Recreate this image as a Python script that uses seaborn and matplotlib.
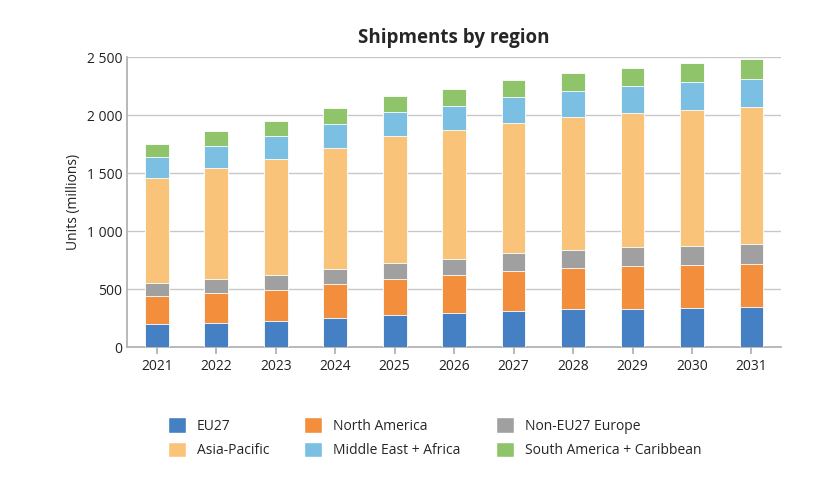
import numpy as np
import pandas as pd
import seaborn as sns
import matplotlib.pyplot as plt
from matplotlib.patches import Patch
from matplotlib.ticker import FuncFormatter

years = ["2021","2022","2023","2024","2025","2026","2027","2028","2029","2030","2031"]
eu27 = [199,210,225,253,276,294,314,325,331,337,343]
north_america = [239,257,270,291,312,325,346,360,372,374,377]
non_eu27 = [112,118,124,130,141,141,152,156,158,159,167]
asia_pacific = [907,962,1008,1045,1091,1109,1120,1140,1155,1172,1187]
mea = [179,188,196,208,208,210,222,228,236,242,242]
south_america = [115,126,130,132,141,144,150,155,159,164,170]

names = ["EU27","North America","Non-EU27 Europe","Asia-Pacific","Middle East + Africa","South America + Caribbean"]
series = [eu27, north_america, non_eu27, asia_pacific, mea, south_america]
colors = ["#4580c4","#f28e3c","#a0a0a0","#fac37a","#7bbfe2","#8fc46a"]

sns.set_theme(style="white", font="Open Sans")
fig, ax = plt.subplots(figsize=(8.31,4.78), dpi=100)
fig.subplots_adjust(left=0.153, right=0.94, top=0.88, bottom=0.274)

cum = np.cumsum(np.array(series), axis=0)
for i in range(len(series)-1, -1, -1):
    df = pd.DataFrame({"year": years, "v": cum[i]})
    sns.barplot(data=df, x="year", y="v", color=colors[i], width=0.4, saturation=1,
                edgecolor="white", linewidth=0.6, ax=ax, zorder=3)

ax.set_ylim(0, 2500)
ax.set_yticks(range(0, 2501, 500))
ax.yaxis.set_major_formatter(FuncFormatter(lambda v, p: f"{int(v):,}".replace(",", " ")))
ax.grid(axis="y", color="#c8c8c8", linewidth=1, zorder=0)
ax.set_axisbelow(True)
for s in ["top","right"]:
    ax.spines[s].set_visible(False)
for s in ["left","bottom"]:
    ax.spines[s].set_color("#b0b0b0")
ax.tick_params(axis="x", length=5, color="#b0b0b0", bottom=True, labelsize=10, colors="#222222")
ax.tick_params(axis="y", length=0, labelsize=10, colors="#222222")
ax.set_xlabel("")
ax.set_ylabel("Units (millions)", fontsize=10, color="#222222")
ax.set_title("Shipments by region", fontsize=13.5, fontweight="bold", pad=10)

handles = [Patch(facecolor=c, label=n) for c, n in zip(colors, names)]
order = [0,3,1,4,2,5]
ax.legend([handles[k] for k in order], [names[k] for k in order], ncol=3,
          loc="upper center", bbox_to_anchor=(0.47, -0.2), frameon=False,
          fontsize=10, handlelength=1.3, handleheight=1.3, columnspacing=2.5, labelspacing=0.6)

fig.savefig("out.png", dpi=100)
